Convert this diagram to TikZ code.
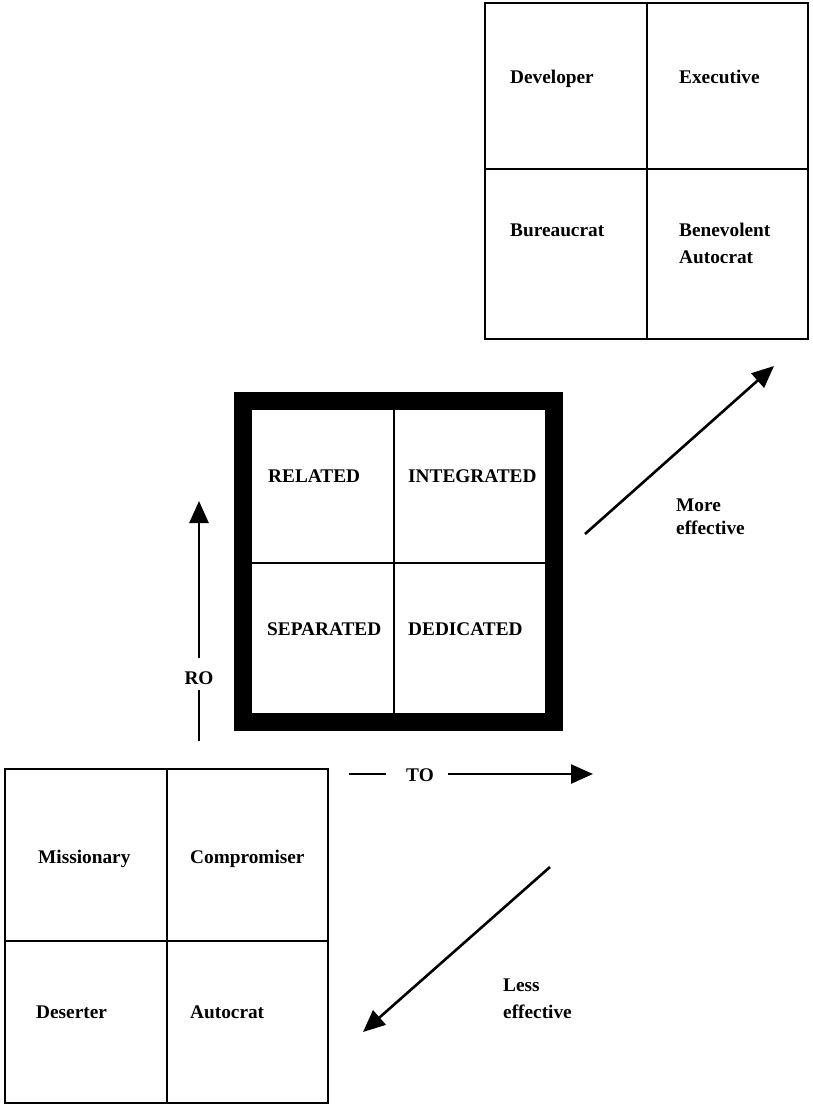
\documentclass[tikz,border=0pt]{standalone}
\usepackage{fontspec}
\setmainfont{Liberation Serif}
\usetikzlibrary{arrows.meta}
\begin{document}
\begin{tikzpicture}[x=1pt,y=-1pt,
  lbl/.style={anchor=base west,inner sep=0pt,font=\bfseries\fontsize{19.3}{23}\selectfont},
  lblc/.style={anchor=base,inner sep=0pt,font=\bfseries\fontsize{19.3}{23}\selectfont},
  grid/.style={line width=1.8pt},
  heavy/.style={line width=18pt},
  axis/.style={line width=2.6pt},
  tip/.style={-{Triangle[length=22pt,width=19pt]}}]
\useasboundingbox (0,0) rectangle (812,1108);
% top grid
\draw[grid] (485,3) rectangle (808,339);
\draw[grid] (647,3) -- (647,339);
\draw[grid] (485,169) -- (808,169);
\node[lbl] (dev) at (510,84) {Developer};
\node[lbl] (exe) at (679,84) {Executive};
\node[lbl] (bur) at (510,236) {Bureaucrat};
\node[lbl] (ben1) at (679,236) {Benevolent};
\node[lbl] (ben2) at (679,263) {Autocrat};
% middle grid
\draw[heavy] (242.5,400.5) rectangle (554,721.5);
\draw[grid] (394,409) -- (394,713);
\draw[grid] (252,563) -- (546,563);
\node[lbl] (rel) at (268,482) {RELATED};
\node[lbl] (int) at (408,482) {INTEGRATED};
\node[lbl] (sep) at (267,635) {SEPARATED};
\node[lbl] (ded) at (408,635) {DEDICATED};
% bottom grid
\draw[grid] (5,769) rectangle (328,1103);
\draw[grid] (167,769) -- (167,1103);
\draw[grid] (5,941) -- (328,941);
\node[lbl] (mis) at (38,863) {Missionary};
\node[lbl] (com) at (190,863) {Compromiser};
\node[lbl] (des) at (36,1018) {Deserter};
\node[lbl] (aut) at (190,1018) {Autocrat};
% RO axis
\coordinate (ro0) at (199,741);
\coordinate (ro1) at (199,690);
\coordinate (ro2) at (199,658);
\coordinate (ro3) at (199,501);
\node[lblc] (ro) at (199,684) {RO};
\draw[axis] (ro0) -- (ro1);
\draw[axis,tip] (ro2) -- (ro3);
% TO axis
\coordinate (to0) at (349,774);
\coordinate (to1) at (386,774);
\coordinate (to2) at (448,774);
\coordinate (to3) at (593,774);
\node[lblc] (to) at (420,781) {TO};
\draw[axis] (to0) -- (to1);
\draw[axis,tip] (to2) -- (to3);
% more effective
\coordinate (me0) at (585,534);
\coordinate (me1) at (774,366);
\draw[axis,tip] (me0) -- (me1);
\node[lbl] (more) at (676,511) {More};
\node[lbl] (meff) at (676,534) {effective};
% less effective
\coordinate (le0) at (550,867);
\coordinate (le1) at (363,1032);
\draw[axis,tip] (le0) -- (le1);
\node[lbl] (less) at (503,991) {Less};
\node[lbl] (leff) at (503,1018) {effective};
\end{tikzpicture}
\end{document}
